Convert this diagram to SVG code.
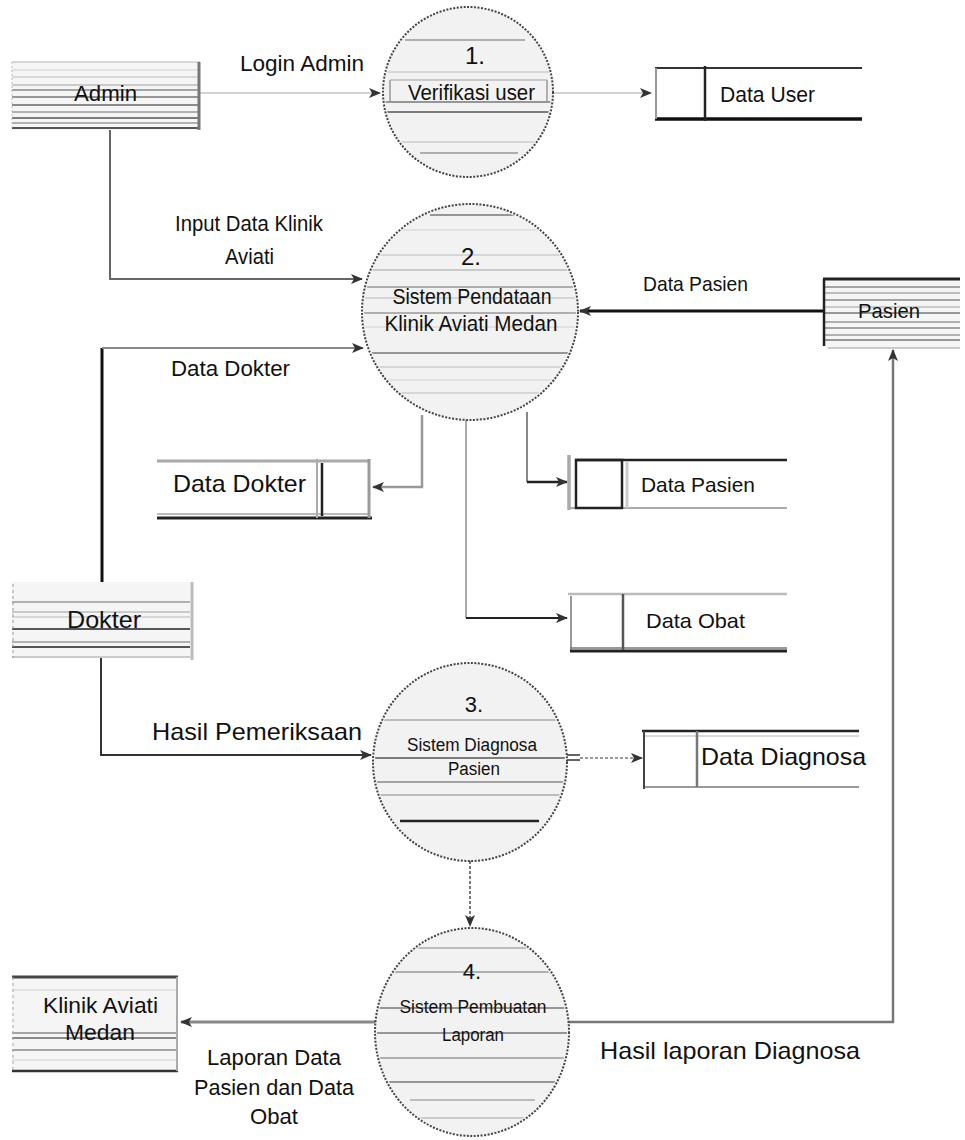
<svg xmlns="http://www.w3.org/2000/svg" width="965" height="1140" viewBox="0 0 965 1140">
  <defs>
    <style>
      text { font-family: "Liberation Sans", Arial, sans-serif; fill: #111; }
      .lbl { font-size: 22px; }
      .big { font-size: 24px; }
      .mid { font-size: 21px; }
      .sm { font-size: 18px; }
      .proc { fill: #f2f2f2; stroke: #444; stroke-width: 2; stroke-dasharray: 2 1.5; }
      .ent { fill: #f5f5f5; }
      .flow { fill: none; marker-end: url(#arrow); }
    </style>
    <marker id="arrow" markerWidth="12" markerHeight="12" refX="11" refY="6" orient="auto" markerUnits="userSpaceOnUse">
      <path d="M0,1 L12,6 L0,11 L3,6 z" fill="#333"/>
    </marker>
    <clipPath id="c1"><ellipse cx="468" cy="92" rx="83" ry="83"/></clipPath>
    <clipPath id="c2"><ellipse cx="470" cy="312" rx="106" ry="106"/></clipPath>
    <clipPath id="c3"><ellipse cx="470" cy="762" rx="95" ry="97"/></clipPath>
    <clipPath id="c4"><ellipse cx="472" cy="1032" rx="95" ry="102"/></clipPath>
  </defs>

  <rect width="965" height="1140" fill="#fff"/>

  <!-- connectors -->
  <g id="connectors">
    <path class="flow" d="M200,93 H380" stroke="#c4c4c4" stroke-width="1.5"/>
    <path class="flow" d="M553,93 H651" stroke="#c4c4c4" stroke-width="1.5"/>
    <path class="flow" d="M110,130 V279 H362" stroke="#666" stroke-width="2"/>
    <path d="M102,582 V348" fill="none" stroke="#111" stroke-width="3"/>
    <path class="flow" d="M102,348 H363" stroke="#888" stroke-width="2"/>
    <path class="flow" d="M823,311 H580" stroke="#111" stroke-width="3"/>
    <path class="flow" d="M422,415 V487 H373" stroke="#999" stroke-width="2.5"/>
    <path d="M527,412 V482" fill="none" stroke="#888" stroke-width="2"/>
    <path class="flow" d="M527,482 H567" stroke="#222" stroke-width="2.5"/>
    <path d="M466,420 V618" fill="none" stroke="#aaa" stroke-width="2"/>
    <path class="flow" d="M466,618 H567" stroke="#222" stroke-width="2"/>
    <path class="flow" d="M101,658 V755 H371" stroke="#333" stroke-width="2"/>
    <path d="M567,755 H580 M567,760 H580" fill="none" stroke="#333" stroke-width="1.5"/>
    <path class="flow" d="M580,758 H642" stroke="#999" stroke-width="2" stroke-dasharray="3 2"/>
    <path class="flow" d="M470,861 V926" stroke="#777" stroke-width="2" stroke-dasharray="3 2"/>
    <path class="flow" d="M377,1022 H181" stroke="#888" stroke-width="3"/>
    <path class="flow" d="M567,1022 H893 V350" stroke="#777" stroke-width="2.5"/>
  </g>

  <!-- flow labels -->
  <g id="flow-labels">
    <text class="lbl" x="240" y="71" textLength="124" lengthAdjust="spacingAndGlyphs">Login Admin</text>
    <text class="lbl" x="175" y="231" textLength="148" lengthAdjust="spacingAndGlyphs">Input Data Klinik</text>
    <text class="lbl" x="225" y="264" textLength="49" lengthAdjust="spacingAndGlyphs">Aviati</text>
    <text class="lbl" x="171" y="376" textLength="119" lengthAdjust="spacingAndGlyphs">Data Dokter</text>
    <text class="mid" x="643" y="291" textLength="105" lengthAdjust="spacingAndGlyphs">Data Pasien</text>
    <text class="big" x="152" y="740" textLength="210" lengthAdjust="spacingAndGlyphs">Hasil Pemeriksaan</text>
    <text class="big" x="600" y="1059" textLength="260" lengthAdjust="spacingAndGlyphs">Hasil laporan Diagnosa</text>
    <text class="lbl" x="274" y="1065" text-anchor="middle" textLength="134" lengthAdjust="spacingAndGlyphs">Laporan Data</text>
    <text class="lbl" x="274" y="1095" text-anchor="middle" textLength="160" lengthAdjust="spacingAndGlyphs">Pasien dan Data</text>
    <text class="lbl" x="274" y="1124" text-anchor="middle" textLength="48" lengthAdjust="spacingAndGlyphs">Obat</text>
  </g>

  <!-- external entity: Admin -->
  <g id="admin">
    <rect class="ent" x="12" y="61" width="188" height="69"/>
    <g stroke-width="1.5">
      <line x1="12" y1="62" x2="200" y2="62" stroke="#ccc"/>
      <line x1="12" y1="70" x2="200" y2="70" stroke="#ddd"/>
      <line x1="12" y1="77" x2="200" y2="77" stroke="#ccc"/>
      <line x1="12" y1="85" x2="200" y2="85" stroke="#bbb"/>
      <line x1="12" y1="90" x2="200" y2="90" stroke="#888"/>
      <line x1="12" y1="97" x2="200" y2="97" stroke="#777"/>
      <line x1="12" y1="105" x2="200" y2="105" stroke="#666"/>
      <line x1="12" y1="112" x2="200" y2="112" stroke="#999"/>
      <line x1="12" y1="118" x2="200" y2="118" stroke="#555"/>
      <line x1="12" y1="123" x2="200" y2="123" stroke="#999"/>
      <line x1="12" y1="128" x2="200" y2="128" stroke="#555" stroke-width="2"/>
    </g>
    <line x1="199" y1="62" x2="199" y2="130" stroke="#777" stroke-width="3"/>
    <line x1="12" y1="62" x2="12" y2="130" stroke="#bbb" stroke-width="1" stroke-dasharray="2 2"/>
    <text class="lbl" x="74" y="101" textLength="63" lengthAdjust="spacingAndGlyphs">Admin</text>
  </g>

  <!-- process 1 -->
  <g id="proc-1">
    <ellipse class="proc" cx="468" cy="92" rx="85" ry="85"/>
    <g clip-path="url(#c1)" stroke-width="1.5">
      <line x1="405" y1="40" x2="525" y2="40" stroke="#999"/>
      <line x1="380" y1="72" x2="560" y2="72" stroke="#ccc"/>
      <line x1="390" y1="80" x2="547" y2="80" stroke="#bbb"/>
      <line x1="380" y1="102" x2="560" y2="102" stroke="#777"/>
      <line x1="380" y1="112" x2="560" y2="112" stroke="#555"/>
      <line x1="380" y1="142" x2="560" y2="142" stroke="#ccc"/>
      <line x1="420" y1="153" x2="518" y2="153" stroke="#999"/>
      <line x1="390" y1="80" x2="390" y2="102" stroke="#999"/>
      <line x1="547" y1="80" x2="547" y2="102" stroke="#999"/>
    </g>
    <text class="big" x="475" y="64" text-anchor="middle">1.</text>
    <text class="lbl" x="408" y="100" textLength="127" lengthAdjust="spacingAndGlyphs">Verifikasi user</text>
  </g>

  <!-- data store: Data User -->
  <g id="store-user">
    <line x1="655" y1="68" x2="862" y2="68" stroke="#333" stroke-width="2"/>
    <line x1="655" y1="119" x2="862" y2="119" stroke="#111" stroke-width="3.5"/>
    <line x1="656" y1="68" x2="656" y2="119" stroke="#999" stroke-width="2"/>
    <line x1="705" y1="66" x2="705" y2="121" stroke="#222" stroke-width="2.5"/>
    <text class="lbl" x="720" y="102" textLength="95" lengthAdjust="spacingAndGlyphs">Data User</text>
  </g>

  <!-- process 2 -->
  <g id="proc-2">
    <ellipse class="proc" cx="470" cy="312" rx="108" ry="108"/>
    <g clip-path="url(#c2)" stroke-width="1.5">
      <line x1="430" y1="215" x2="515" y2="215" stroke="#777"/>
      <line x1="360" y1="230" x2="580" y2="230" stroke="#ddd"/>
      <line x1="360" y1="255" x2="580" y2="255" stroke="#ccc"/>
      <line x1="360" y1="270" x2="580" y2="270" stroke="#bbb"/>
      <line x1="360" y1="287" x2="580" y2="287" stroke="#999"/>
      <line x1="360" y1="298" x2="580" y2="298" stroke="#ccc"/>
      <line x1="360" y1="313" x2="580" y2="313" stroke="#999"/>
      <line x1="360" y1="327" x2="580" y2="327" stroke="#ddd"/>
      <line x1="360" y1="353" x2="580" y2="353" stroke="#777"/>
      <line x1="360" y1="367" x2="580" y2="367" stroke="#ccc"/>
      <line x1="360" y1="380" x2="580" y2="380" stroke="#ddd"/>
      <line x1="360" y1="393" x2="580" y2="393" stroke="#ccc"/>
    </g>
    <text class="big" x="471" y="265" text-anchor="middle">2.</text>
    <text class="lbl" x="472" y="304" text-anchor="middle" textLength="159" lengthAdjust="spacingAndGlyphs">Sistem Pendataan</text>
    <text class="lbl" x="471" y="331" text-anchor="middle" textLength="173" lengthAdjust="spacingAndGlyphs">Klinik Aviati Medan</text>
  </g>

  <!-- external entity: Pasien -->
  <g id="pasien">
    <rect class="ent" x="823" y="279" width="137" height="69"/>
    <g stroke-width="1.5">
      <line x1="823" y1="287" x2="960" y2="287" stroke="#888"/>
      <line x1="823" y1="293" x2="960" y2="293" stroke="#aaa"/>
      <line x1="823" y1="300" x2="960" y2="300" stroke="#888"/>
      <line x1="823" y1="307" x2="960" y2="307" stroke="#bbb"/>
      <line x1="823" y1="313" x2="960" y2="313" stroke="#777"/>
      <line x1="823" y1="322" x2="960" y2="322" stroke="#999"/>
      <line x1="823" y1="328" x2="960" y2="328" stroke="#888"/>
      <line x1="823" y1="335" x2="960" y2="335" stroke="#999"/>
      <line x1="823" y1="340" x2="960" y2="340" stroke="#777"/>
      <line x1="828" y1="348" x2="960" y2="348" stroke="#bbb"/>
    </g>
    <line x1="823" y1="279" x2="960" y2="279" stroke="#222" stroke-width="3"/>
    <line x1="824" y1="279" x2="824" y2="346" stroke="#222" stroke-width="2.5"/>
    <text class="mid" x="858" y="318" textLength="62" lengthAdjust="spacingAndGlyphs">Pasien</text>
  </g>

  <!-- data store: Data Dokter -->
  <g id="store-dokter">
    <line x1="157" y1="461" x2="370" y2="461" stroke="#aaa" stroke-width="3"/>
    <line x1="157" y1="514" x2="370" y2="514" stroke="#bbb" stroke-width="2"/>
    <line x1="157" y1="518" x2="372" y2="518" stroke="#222" stroke-width="3"/>
    <line x1="317" y1="459" x2="317" y2="518" stroke="#aaa" stroke-width="2"/>
    <line x1="322" y1="463" x2="322" y2="516" stroke="#222" stroke-width="2.5"/>
    <line x1="369" y1="459" x2="369" y2="518" stroke="#999" stroke-width="3"/>
    <text class="big" x="173" y="492" textLength="133" lengthAdjust="spacingAndGlyphs">Data Dokter</text>
  </g>

  <!-- data store: Data Pasien -->
  <g id="store-pasien">
    <line x1="569" y1="455" x2="569" y2="510" stroke="#aaa" stroke-width="3.5"/>
    <line x1="575" y1="460" x2="787" y2="460" stroke="#222" stroke-width="2.5"/>
    <line x1="569" y1="508" x2="787" y2="508" stroke="#aaa" stroke-width="2"/>
    <rect x="576" y="460" width="46" height="48" fill="none" stroke="#222" stroke-width="2.5"/>
    <line x1="627" y1="462" x2="627" y2="508" stroke="#ccc" stroke-width="3"/>
    <text class="mid" x="641" y="492" textLength="114" lengthAdjust="spacingAndGlyphs">Data Pasien</text>
  </g>

  <!-- data store: Data Obat -->
  <g id="store-obat">
    <line x1="568" y1="594" x2="787" y2="594" stroke="#bbb" stroke-width="2.5"/>
    <line x1="570" y1="648" x2="787" y2="648" stroke="#999" stroke-width="2"/>
    <line x1="570" y1="651" x2="787" y2="651" stroke="#222" stroke-width="3"/>
    <line x1="571" y1="596" x2="571" y2="650" stroke="#777" stroke-width="1.5"/>
    <line x1="623" y1="594" x2="623" y2="650" stroke="#555" stroke-width="2.5"/>
    <text class="mid" x="646" y="628" textLength="99" lengthAdjust="spacingAndGlyphs">Data Obat</text>
  </g>

  <!-- external entity: Dokter -->
  <g id="dokter">
    <rect class="ent" x="12" y="582" width="178" height="76"/>
    <g stroke-width="1.5">
      <line x1="12" y1="602" x2="190" y2="602" stroke="#999"/>
      <line x1="12" y1="612" x2="190" y2="612" stroke="#bbb"/>
      <line x1="12" y1="617" x2="190" y2="617" stroke="#ccc"/>
      <line x1="12" y1="629" x2="190" y2="629" stroke="#555" stroke-width="2"/>
      <line x1="12" y1="642" x2="190" y2="642" stroke="#999"/>
      <line x1="12" y1="647" x2="190" y2="647" stroke="#555" stroke-width="2"/>
      <line x1="12" y1="657" x2="190" y2="657" stroke="#bbb"/>
    </g>
    <line x1="192" y1="582" x2="192" y2="660" stroke="#bbb" stroke-width="3"/>
    <line x1="13" y1="584" x2="13" y2="658" stroke="#999" stroke-width="1" stroke-dasharray="3 3"/>
    <text class="big" x="67" y="628" textLength="74" lengthAdjust="spacingAndGlyphs">Dokter</text>
  </g>

  <!-- process 3 -->
  <g id="proc-3">
    <ellipse class="proc" cx="470" cy="762" rx="97" ry="99"/>
    <g clip-path="url(#c3)" stroke-width="1.5">
      <line x1="370" y1="720" x2="570" y2="720" stroke="#aaa"/>
      <line x1="370" y1="758" x2="570" y2="758" stroke="#555"/>
      <line x1="370" y1="782" x2="570" y2="782" stroke="#888"/>
      <line x1="370" y1="795" x2="570" y2="795" stroke="#aaa"/>
      <line x1="400" y1="821" x2="539" y2="821" stroke="#222" stroke-width="2.5"/>
    </g>
    <text class="lbl" x="474" y="712" text-anchor="middle">3.</text>
    <text class="sm" x="407" y="751" textLength="130" lengthAdjust="spacingAndGlyphs">Sistem Diagnosa</text>
    <text class="sm" x="448" y="775" textLength="52" lengthAdjust="spacingAndGlyphs">Pasien</text>
  </g>

  <!-- data store: Data Diagnosa -->
  <g id="store-diagnosa">
    <line x1="642" y1="731" x2="859" y2="731" stroke="#222" stroke-width="2.5"/>
    <line x1="644" y1="736" x2="859" y2="736" stroke="#ccc" stroke-width="1.5"/>
    <line x1="644" y1="787" x2="859" y2="787" stroke="#999" stroke-width="2"/>
    <line x1="644" y1="731" x2="644" y2="789" stroke="#444" stroke-width="2"/>
    <line x1="697" y1="731" x2="697" y2="787" stroke="#777" stroke-width="2.5"/>
    <text class="big" x="701" y="765" textLength="165" lengthAdjust="spacingAndGlyphs">Data Diagnosa</text>
  </g>

  <!-- process 4 -->
  <g id="proc-4">
    <ellipse class="proc" cx="472" cy="1032" rx="97" ry="104"/>
    <g clip-path="url(#c4)" stroke-width="1.5">
      <line x1="370" y1="948" x2="575" y2="948" stroke="#aaa"/>
      <line x1="370" y1="972" x2="575" y2="972" stroke="#999"/>
      <line x1="370" y1="1008" x2="575" y2="1008" stroke="#777"/>
      <line x1="370" y1="1033" x2="575" y2="1033" stroke="#777"/>
      <line x1="370" y1="1058" x2="575" y2="1058" stroke="#999"/>
      <line x1="370" y1="1082" x2="575" y2="1082" stroke="#777"/>
      <line x1="410" y1="1100" x2="535" y2="1100" stroke="#aaa"/>
      <line x1="420" y1="1118" x2="525" y2="1118" stroke="#bbb"/>
    </g>
    <text class="lbl" x="472" y="979" text-anchor="middle">4.</text>
    <text class="sm" x="473" y="1013" text-anchor="middle" textLength="147" lengthAdjust="spacingAndGlyphs">Sistem Pembuatan</text>
    <text class="sm" x="473" y="1041" text-anchor="middle" textLength="62" lengthAdjust="spacingAndGlyphs">Laporan</text>
  </g>

  <!-- external entity: Klinik Aviati Medan -->
  <g id="klinik">
    <rect class="ent" x="12" y="977" width="166" height="94"/>
    <g stroke-width="1.5">
      <line x1="12" y1="990" x2="178" y2="990" stroke="#ddd"/>
      <line x1="12" y1="1033" x2="178" y2="1033" stroke="#888"/>
      <line x1="12" y1="1038" x2="178" y2="1038" stroke="#666"/>
      <line x1="12" y1="1050" x2="178" y2="1050" stroke="#888"/>
      <line x1="12" y1="1060" x2="178" y2="1060" stroke="#ddd"/>
    </g>
    <line x1="12" y1="977" x2="178" y2="977" stroke="#444" stroke-width="3"/>
    <line x1="12" y1="1071" x2="178" y2="1071" stroke="#333" stroke-width="2.5"/>
    <line x1="177" y1="977" x2="177" y2="1071" stroke="#aaa" stroke-width="2"/>
    <line x1="13" y1="977" x2="13" y2="1071" stroke="#aaa" stroke-width="1" stroke-dasharray="3 3"/>
    <text class="lbl" x="43" y="1013" textLength="115" lengthAdjust="spacingAndGlyphs">Klinik Aviati</text>
    <text class="lbl" x="65" y="1040" textLength="70" lengthAdjust="spacingAndGlyphs">Medan</text>
  </g>
</svg>
